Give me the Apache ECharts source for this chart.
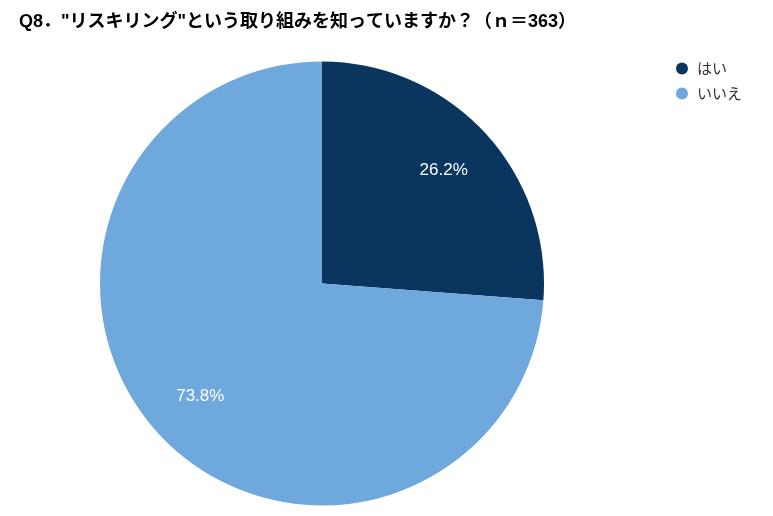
<!DOCTYPE html>
<html><head><meta charset="utf-8">
<script src="https://cdn.jsdelivr.net/npm/echarts@6/dist/echarts.min.js"></script>
<style>html,body{margin:0;padding:0;background:#fff}#c{width:773px;height:516px}</style>
</head><body><div id="c"></div>
<script>
const titleText = 'Q8．"リスキリング"という取り組みを知っていますか？（ｎ＝363）';
const categories = ['はい', 'いいえ'];
const values = [26.2, 73.8];
const colors = ['#0a355f', '#6fa8dc'];

const chart = echarts.init(document.getElementById('c'));
const data = categories.map((n, i) => ({ name: n, value: values[i], itemStyle: { color: colors[i] } }));
chart.setOption({
  animation: false,
  title: { text: titleText, left: 14, top: 8, textStyle: { fontSize: 18, fontWeight: 'bold', color: '#000', fontFamily: 'Liberation Sans, Noto Sans CJK JP, sans-serif' } },
  legend: {
    orient: 'vertical', left: 671, top: 56, icon: 'circle', itemWidth: 12, itemHeight: 12, itemGap: 10,
    textStyle: { fontSize: 15, color: '#333', padding: [0, 0, 0, 4], fontFamily: 'Noto Sans CJK JP, sans-serif' },
    data: categories
  },
  series: [
    {
      type: 'pie', center: [322, 283.5], radius: [0, 222], startAngle: 90, clockwise: true,
      label: { show: false }, labelLine: { show: false }, emphasis: { disabled: true },
      data: data
    },
    {
      type: 'pie', center: [322, 283.5], radius: [0, 326], startAngle: 90, clockwise: true, silent: true,
      itemStyle: { color: 'transparent' }, legendHoverLink: false,
      label: { show: true, position: 'inside', formatter: p => p.value.toFixed(1) + '%', color: '#fff', fontSize: 17, fontFamily: 'Liberation Sans, Arial, sans-serif' },
      labelLine: { show: false }, emphasis: { disabled: true },
      data: categories.map((n, i) => ({ name: n + ' ', value: values[i] }))
    }
  ]
});
</script></body></html>
